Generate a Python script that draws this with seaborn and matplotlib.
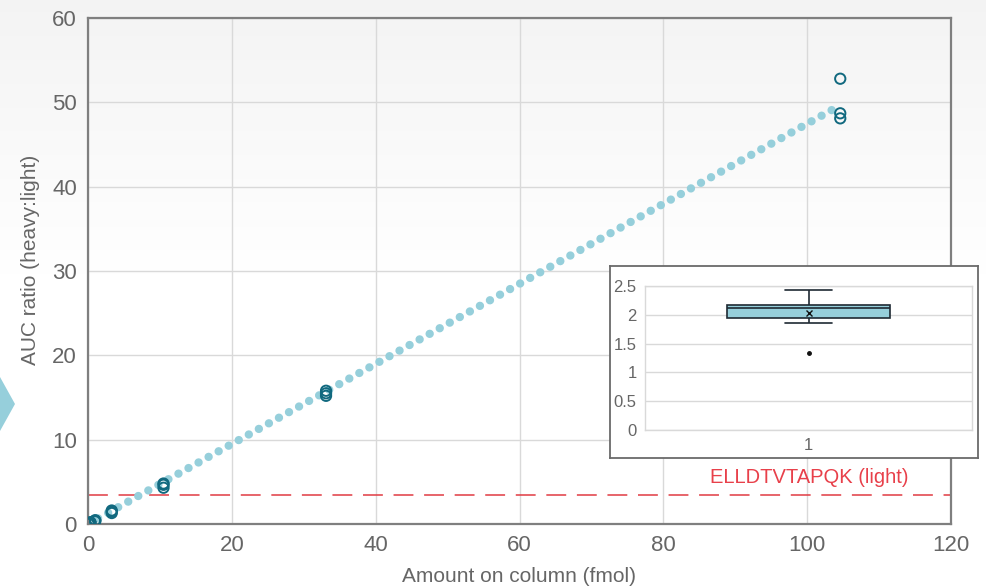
import numpy as np
import pandas as pd
import matplotlib
matplotlib.use("Agg")
import matplotlib.pyplot as plt
from matplotlib.patches import Polygon
import seaborn as sns

# replicate injections of the dilution series
amount = [0.1, 0.1, 0.1, 0.33, 0.33, 0.33, 1.0, 1.0, 1.0,
          3.3, 3.3, 3.3, 10.5, 10.5, 10.5, 33.1, 33.1, 33.1, 104.6, 104.6, 104.6]
ratio = [0.08, 0.05, 0.04, 0.2, 0.17, 0.15, 0.45, 0.38, 0.32,
         1.6, 1.45, 1.3, 4.8, 4.65, 4.3, 15.8, 15.5, 15.2, 52.8, 48.7, 48.1]

# linear fit end points
fit_x = [0, 104.5]
fit_y = [0, 49.6]

lloq = 3.44
lloq_label = "ELLDTVTAPQK (light)"

# inset: response factor distribution
rf_values = [1.33, 1.85, 1.95, 1.97, 2.12, 2.15, 2.17, 2.30, 2.43]

df = pd.DataFrame({"amount": amount, "ratio": ratio})
fit = pd.DataFrame({"x": fit_x, "y": fit_y})
rf = pd.DataFrame({"group": ["1"] * len(rf_values), "rf": rf_values})

sns.set_theme(style="whitegrid")
plt.rcParams["font.family"] = ["Liberation Sans", "DejaVu Sans"]
grey_txt = "#666666"

W, H = 986, 587
fig = plt.figure(figsize=(W / 100, H / 100), dpi=100)
fig.patch.set_facecolor("white")

# soft grey gradient behind everything
bg = fig.add_axes([0, 0, 1, 1], zorder=-10)
g = np.ones(256)
g[:120] = np.linspace(0.955, 1.0, 120)
img = np.repeat(g[:, None, None], 3, axis=2).repeat(4, axis=1)
bg.imshow(img, aspect="auto", extent=[0, 1, 0, 1], origin="upper", vmin=0, vmax=1)
bg.axis("off")

# left-edge slide arrow
fig.patches.append(Polygon([(0, (H - 377) / H), (15 / W, (H - 404) / H), (0, (H - 431) / H)],
                           closed=True, transform=fig.transFigure,
                           facecolor="#96cfdb", edgecolor="none"))

ax = fig.add_axes([88 / W, (H - 524) / H, (951 - 88) / W, (524 - 18) / H])
ax.set_facecolor("none")

sns.lineplot(data=fit, x="x", y="y", ax=ax, color="#96cfdb", linewidth=6,
             linestyle=(0, (0.01, 1.37)), dash_capstyle="round", zorder=2)
sns.scatterplot(data=df, x="amount", y="ratio", ax=ax, marker="o", s=55,
                facecolor="none", edgecolor="#11697f", linewidth=1.4, zorder=3)
ax.axhline(lloq, color="#e03a42", linewidth=1.1, dashes=(13, 7), zorder=1)
ax.text(86.5, lloq + 1.0, lloq_label, color="#e8404a", fontsize=14.5, ha="left", va="bottom")

ax.set_xlim(0, 120)
ax.set_ylim(0, 60)
ax.set_xticks(range(0, 121, 20))
ax.set_yticks(range(0, 61, 10))
ax.grid(True, color="#d9d9d9", linewidth=1)
ax.tick_params(length=0, labelsize=16, colors=grey_txt, pad=8)
for s in ax.spines.values():
    s.set_color("#7f7f7f")
    s.set_linewidth(1.6)
ax.set_xlabel("Amount on column (fmol)", fontsize=15, color=grey_txt, labelpad=8)
ax.set_ylabel("AUC ratio (heavy:light)", fontsize=15, color=grey_txt)
ax.yaxis.set_label_coords(-0.056, 0.522)

# inset frame
frame = fig.add_axes([610 / W, (H - 458) / H, 368 / W, 192 / H], zorder=5)
frame.set_facecolor("white")
frame.set_xticks([])
frame.set_yticks([])
frame.grid(False)
for s in frame.spines.values():
    s.set_color("#6a6a6a")
    s.set_linewidth(1.3)

ins = fig.add_axes([645 / W, (H - 430) / H, 327 / W, 144 / H], zorder=6)
ins.set_facecolor("white")
sns.boxplot(data=rf, x="group", y="rf", ax=ins, width=0.5, color="#96cfdb",
            linecolor="#1f2a33", linewidth=1.2, showmeans=True,
            meanprops=dict(marker="x", markeredgecolor="#111111", markersize=5, markeredgewidth=1),
            flierprops=dict(marker="o", markersize=2.5, markerfacecolor="#111111",
                            markeredgecolor="#111111"),
            saturation=1)
# narrower whisker caps
for ln in ins.lines:
    xd = np.asarray(ln.get_xdata(), dtype=float)
    yd = np.asarray(ln.get_ydata(), dtype=float)
    if len(xd) == 2 and yd[0] == yd[1] and 0.2 < abs(xd[1] - xd[0]) < 0.3:
        c = xd.mean()
        ln.set_xdata([c - 0.072, c + 0.072])
ins.set_xlim(-0.5, 0.5)
ins.set_ylim(0, 2.5)
ins.set_yticks([0, 0.5, 1, 1.5, 2, 2.5])
ins.set_yticklabels(["0", "0.5", "1", "1.5", "2", "2.5"])
ins.set_xlabel("")
ins.set_ylabel("")
ins.grid(True, axis="y", color="#d9d9d9", linewidth=1)
ins.grid(False, axis="x")
ins.tick_params(length=0, labelsize=12, colors=grey_txt, pad=6)
for s in ins.spines.values():
    s.set_color("#d9d9d9")
    s.set_linewidth(1)

fig.savefig("out.png", dpi=100)
